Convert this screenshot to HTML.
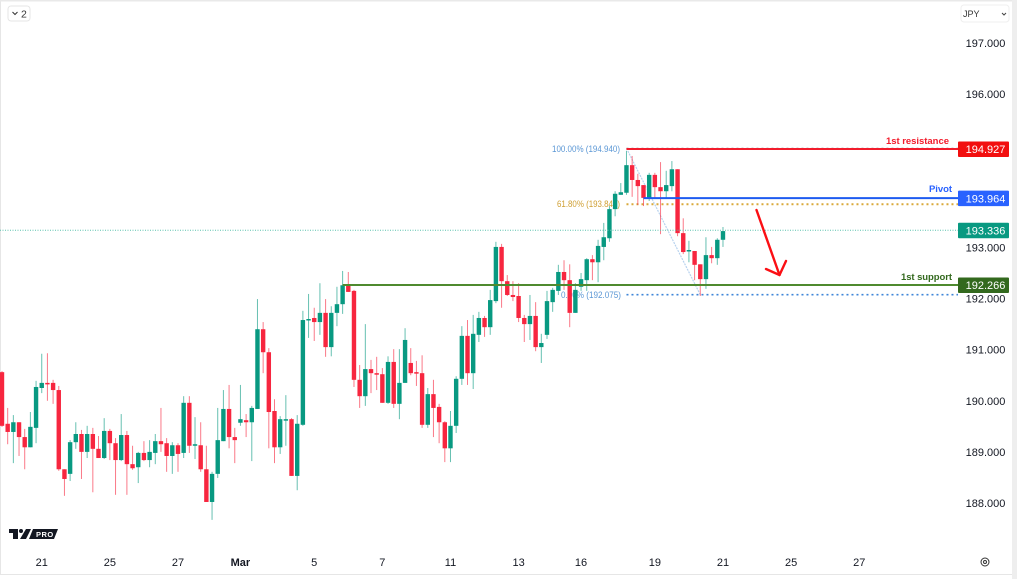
<!DOCTYPE html>
<html lang="en">
<head>
<meta charset="utf-8">
<title>JPY candlestick chart</title>
<style>
html,body{margin:0;padding:0;background:#fff;}
#wrap{position:relative;width:1017px;height:579px;overflow:hidden;background:#fff;font-family:"Liberation Sans",sans-serif;}
svg{display:block;filter:blur(0.3px);}
text{font-family:"Liberation Sans",sans-serif;}
</style>
</head>
<body>
<div id="wrap">
<svg id="chart" width="1017" height="579" viewBox="0 0 1017 579" xmlns="http://www.w3.org/2000/svg">
  <rect x="0" y="0" width="1017" height="579" fill="#ffffff"/>
  <rect x="0" y="0" width="1" height="574" fill="#e6e6e6"/>
  <rect x="0" y="0" width="1017" height="1.5" fill="#e9e9e9"/>
  <rect x="1012" y="0" width="5" height="579" fill="#eeeeee"/>
  <rect x="0" y="574" width="1012" height="1" fill="#e6e6e6"/>
  <g id="fib-layer"></g>
  <g id="candle-layer"></g>
  <g id="level-layer"></g>
  <g id="y-axis"></g>
  <g id="x-axis"></g>
  <g id="tag-layer"></g>

  <g fill="none" stroke="#fb0f14" stroke-width="2.4" stroke-linecap="round" stroke-linejoin="round">
    <line x1="756.5" y1="210" x2="779.5" y2="275"/>
    <polyline points="766,269 779.5,275 786,261"/>
  </g>

  <g>
    <rect x="8" y="6" width="22" height="15" rx="3" fill="#fff" stroke="#e6e6e6"/>
    <polyline points="12.5,12 15,14.5 17.5,12" fill="none" stroke="#333" stroke-width="1"/>
    <text x="21" y="17.5" font-size="10.5" fill="#333">2</text>
  </g>

  <g>
    <rect x="961" y="5" width="48" height="17" rx="3" fill="#fff" stroke="#efefef"/>
    <text x="963" y="17" font-size="9" fill="#333">JPY</text>
    <polyline points="1002,13 1004,15 1006,13" fill="none" stroke="#444" stroke-width="1"/>
  </g>

  <g>
    <polygon points="9,529 18,529 18,539 13,539 13,533 9,533" fill="#131722"/>
    <circle cx="21" cy="531" r="2" fill="#131722"/>
    <polygon points="26,529 31,529 26,539 20,539" fill="#131722"/>
    <polygon points="33,529 58,529 54,539 29,539" fill="#131722"/>
    <text x="36" y="537" font-size="7.5" font-weight="bold" fill="#fff" letter-spacing="0.5">PRO</text>
  </g>

  <g fill="none" stroke="#333">
    <circle cx="985" cy="562" r="4"/>
    <circle cx="985" cy="562" r="1.5"/>
  </g>
</svg>
</div>
<script>
const categories = Array.from({length: 128}, (_, k) => k);
const opens = [190.56,189.55,189.39,189.58,189.29,189.09,189.47,190.25,190.35,190.35,190.21,188.66,188.57,189.19,189.35,189.00,189.35,189.06,188.88,189.41,
189.17,188.84,189.33,188.76,188.70,188.98,188.84,188.98,189.21,189.17,188.92,189.13,188.98,189.96,189.12,189.13,188.66,188.02,188.57,189.21,
189.84,189.29,189.57,189.62,189.58,189.84,191.40,190.95,189.80,189.09,189.62,189.64,188.53,189.53,191.58,191.62,191.54,191.72,191.05,191.72,
191.89,192.26,192.15,190.41,190.09,190.62,190.54,190.52,189.96,190.76,189.94,190.35,190.74,190.56,190.54,189.53,190.13,189.88,189.58,189.07,
189.51,190.43,191.27,190.54,191.29,191.62,191.44,191.95,193.01,192.34,192.07,192.05,191.62,191.50,191.66,191.05,191.29,191.93,192.15,192.52,
192.36,191.72,192.23,192.36,192.77,192.71,193.01,193.18,193.75,194.03,194.07,194.61,194.32,194.22,193.97,194.42,194.18,194.10,194.20,194.53,
193.28,192.93,192.93,192.67,192.38,192.85,192.79,193.15];
const highs = [190.58,189.86,189.72,189.58,189.45,189.78,190.39,190.92,190.93,190.41,190.29,188.66,189.23,189.58,189.43,189.51,189.47,189.31,189.66,189.45,
189.27,189.74,189.41,189.12,189.00,189.21,189.23,189.35,189.86,189.27,189.19,189.17,190.09,190.09,189.68,189.58,189.12,188.61,189.86,190.21,
190.31,189.47,190.31,189.74,189.90,191.99,191.54,191.03,190.03,189.70,190.11,189.66,189.72,191.76,192.09,191.82,192.30,191.99,191.85,192.23,
192.54,192.52,192.17,190.70,191.50,190.80,190.86,190.64,190.87,191.01,191.01,191.42,191.03,190.78,190.89,190.25,190.41,189.94,189.60,189.80,
190.48,191.46,191.58,191.68,191.74,191.66,192.17,193.11,193.07,192.46,192.34,192.30,191.68,192.07,191.93,191.31,192.15,192.21,192.66,192.75,
192.67,192.30,192.50,192.79,192.85,193.15,193.48,193.81,194.10,194.26,194.89,194.79,194.44,194.22,194.46,194.46,194.67,194.50,194.69,194.53,
193.57,193.13,192.93,192.67,193.20,193.01,193.18,193.40];
const lows = [189.49,189.15,188.78,188.92,188.66,189.09,189.17,190.15,190.00,189.94,188.63,188.14,188.43,189.06,188.47,188.88,188.21,188.88,188.86,188.84,
188.16,188.82,188.16,188.65,188.39,188.82,188.70,188.76,189.00,188.61,188.57,188.61,188.88,188.98,188.86,188.61,188.02,187.67,188.49,189.21,
189.07,188.78,189.51,189.29,188.82,189.84,190.54,189.07,188.78,188.96,189.12,188.53,188.25,189.51,191.23,191.17,191.29,190.86,190.87,191.46,
191.70,192.13,190.27,189.86,189.90,190.15,190.21,189.96,189.94,189.86,189.64,190.35,190.50,190.29,189.47,189.47,189.29,189.17,188.80,188.80,
189.37,190.31,190.31,190.23,191.15,191.25,191.29,191.91,191.82,192.05,191.95,191.54,191.15,191.19,190.97,190.74,191.21,191.74,192.07,192.17,
191.44,191.72,192.15,192.15,192.36,192.32,192.75,193.11,193.61,194.03,194.03,193.99,193.83,193.81,193.91,193.97,193.26,193.97,194.10,193.22,
192.87,192.71,192.36,192.05,192.19,192.69,192.66,193.01];
const closes = [189.51,189.39,189.58,189.29,189.09,189.49,190.27,190.35,190.33,190.21,188.66,188.47,189.19,189.35,189.00,189.35,189.06,188.88,189.41,189.17,
188.84,189.33,188.76,188.68,188.98,188.84,189.00,189.21,189.15,188.92,189.13,188.96,189.96,189.12,189.15,188.66,188.02,188.57,189.23,189.84,
189.29,189.23,189.64,189.58,189.86,191.40,190.95,189.78,189.09,189.64,189.64,188.53,189.55,191.58,191.60,191.54,191.72,191.05,191.72,191.89,
192.26,192.13,190.41,190.09,190.62,190.54,190.52,189.96,190.76,189.94,190.35,191.19,190.54,190.54,189.53,190.13,189.86,189.58,189.07,189.51,
190.43,191.27,190.54,191.31,191.62,191.44,191.97,193.01,192.34,192.07,192.03,191.62,191.50,191.66,191.05,191.13,191.95,192.17,192.52,192.36,
191.72,192.17,192.38,192.77,192.71,193.03,193.20,193.75,194.05,194.08,194.61,194.32,194.20,193.97,194.42,194.18,194.10,194.22,194.53,193.28,
192.91,192.95,192.66,192.38,192.85,192.79,193.15,193.32];
const priceTicks = [197,196,195,194,193,192,191,190,189,188];
const timeTickLabels = ["21","25","27","Mar","5","7","11","13","16","19","21","25","27"];
const timeTickBars = [7,19,31,42,55,67,79,91,102,115,127,139,151];
const resistanceLevel = 194.927;
const pivotLevel = 193.964;
const lastPrice = 193.336;
const supportLevel = 192.266;
const fibHighPrice = 194.940;
const fibMidPrice = 193.846;
const fibLowPrice = 192.075;
const fibStartBar = 110;
const fibEndBar = 123;
const resistanceStartBar = 110;
const pivotStartBar = 113;
const supportStartBar = 60;

const NS = 'http://www.w3.org/2000/svg';
const xOf = i => 2 + i * 5.677;
const yOf = p => 43 + (197 - p) * 460 / 9;
const GREEN = '#089981';
const RED = '#f7263f';
const RIGHT = 958;

function mk(parent, tag, attrs, txt) {
  const el = document.createElementNS(NS, tag);
  for (const k in attrs) el.setAttribute(k, attrs[k]);
  if (txt !== undefined) el.textContent = txt;
  parent.appendChild(el);
  return el;
}

/* Fibonacci (behind candles) */
const fib = document.getElementById('fib-layer');
const fibStartX = xOf(fibStartBar);
const fibEndX = xOf(fibEndBar);

const trend = mk(fib, 'line', {x1: fibStartX, y1: yOf(fibHighPrice), x2: fibEndX, y2: yOf(fibLowPrice), stroke: '#b7d2ee', 'stroke-width': 1.2, 'stroke-dasharray': '2 1'});



const fibHighLine = mk(fib, 'line', {x1: fibStartX, y1: yOf(fibHighPrice), x2: RIGHT, y2: yOf(fibHighPrice), stroke: '#8a8a8a', 'stroke-width': 1, 'stroke-dasharray': '2 3'});



const fibMidLine = mk(fib, 'line', {x1: fibStartX, y1: yOf(fibMidPrice), x2: RIGHT, y2: yOf(fibMidPrice), stroke: '#d9a93a', 'stroke-width': 2, 'stroke-dasharray': '2 3'});



const fibLowLine = mk(fib, 'line', {x1: fibStartX, y1: yOf(fibLowPrice), x2: RIGHT, y2: yOf(fibLowPrice), stroke: '#3f86d8', 'stroke-width': 1.6, 'stroke-dasharray': '2 3'});



const fibHighText = mk(fib, 'text', {x: 552, y: yOf(fibHighPrice) + 3.5, 'font-size': 9.5, fill: '#5b97d5', textLength: 68, lengthAdjust: 'spacingAndGlyphs'}, '100.00% (' + fibHighPrice.toFixed(3) + ')');



const fibMidText = mk(fib, 'text', {x: 557, y: yOf(fibMidPrice) + 3, 'font-size': 9.5, fill: '#cf9f32', textLength: 63, lengthAdjust: 'spacingAndGlyphs'}, '61.80% (' + fibMidPrice.toFixed(3) + ')');



const fibLowText = mk(fib, 'text', {x: 561, y: yOf(fibLowPrice) + 3.5, 'font-size': 9.5, fill: '#5b97d5', textLength: 60, lengthAdjust: 'spacingAndGlyphs'}, '0.00% (' + fibLowPrice.toFixed(3) + ')');



/* Candles */
const candleLayer = document.getElementById('candle-layer');
categories.forEach(i => {
  const up = closes[i] >= opens[i];
  const col = up ? GREEN : RED;
  const cx = xOf(i);
  const wick = mk(candleLayer, 'line', {x1: cx, x2: cx, y1: yOf(highs[i]), y2: yOf(lows[i]), stroke: col, 'stroke-width': 1, 'stroke-opacity': 0.62});
  
  
  const top = yOf(Math.max(opens[i], closes[i]));
  const bot = yOf(Math.min(opens[i], closes[i]));
  const body = mk(candleLayer, 'rect', {x: cx - 2.2, y: top, width: 4.4, height: Math.max(bot - top, 1.5), fill: col});
  
  
});

/* Horizontal levels */
const levels = document.getElementById('level-layer');

const lastLine = mk(levels, 'line', {x1: 0, x2: RIGHT, y1: yOf(lastPrice), y2: yOf(lastPrice), stroke: '#5cc2ae', 'stroke-width': 1, 'stroke-dasharray': '1 1.5'});



const resLine = mk(levels, 'line', {x1: xOf(resistanceStartBar), x2: RIGHT, y1: yOf(resistanceLevel), y2: yOf(resistanceLevel), stroke: '#f21c2c', 'stroke-width': 2});



const pivLine = mk(levels, 'line', {x1: xOf(pivotStartBar), x2: RIGHT, y1: yOf(pivotLevel), y2: yOf(pivotLevel), stroke: '#1e5bf0', 'stroke-width': 2});



const supLine = mk(levels, 'line', {x1: xOf(supportStartBar), x2: RIGHT, y1: yOf(supportLevel), y2: yOf(supportLevel), stroke: '#4f8a2f', 'stroke-width': 2});



const resLabel = mk(levels, 'text', {x: 886, y: yOf(resistanceLevel) - 5, 'font-size': 9.5, 'font-weight': 'bold', fill: '#f21c2c', textLength: 63, lengthAdjust: 'spacing'}, '1st resistance');



const pivLabel = mk(levels, 'text', {x: 929, y: yOf(pivotLevel) - 6, 'font-size': 9.5, 'font-weight': 'bold', fill: '#2962ff', textLength: 23, lengthAdjust: 'spacing'}, 'Pivot');



const supLabel = mk(levels, 'text', {x: 901, y: yOf(supportLevel) - 5, 'font-size': 9.5, 'font-weight': 'bold', fill: '#33691e', textLength: 51, lengthAdjust: 'spacing'}, '1st support');



/* Axes */
const yAxis = document.getElementById('y-axis');
priceTicks.forEach(p => {
  const t = mk(yAxis, 'text', {x: 985.5, y: yOf(p) + 4, 'font-size': 11, fill: '#131722', 'text-anchor': 'middle'}, p.toFixed(3));
  
  
});

const xAxis = document.getElementById('x-axis');
timeTickLabels.forEach((lab, k) => {
  const attrs = {x: xOf(timeTickBars[k]), y: 566, 'font-size': 11, fill: '#131722', 'text-anchor': 'middle'};
  if (lab === 'Mar') attrs['font-weight'] = 'bold';
  const t = mk(xAxis, 'text', attrs, lab);
  
  
});

/* Price tags */
const tags = document.getElementById('tag-layer');
function priceTag(value, color, nameBox, nameText) {
  const cy = yOf(value);
  const box = mk(tags, 'rect', {x: 958, y: cy - 7.5, width: 51, height: 15.5, rx: 1, fill: color});
  
  
  const label = mk(tags, 'text', {x: 985.5, y: cy + 4.2, 'font-size': 11, fill: '#ffffff', 'text-anchor': 'middle'}, value.toFixed(3));
  
  
}
priceTag(resistanceLevel, '#f20f0f', 'resistance-tag', 'resistance-tag-value');
priceTag(pivotLevel, '#2962ff', 'pivot-tag', 'pivot-tag-value');
priceTag(lastPrice, '#089981', 'last-price-tag', 'last-price-tag-value');
priceTag(supportLevel, '#33691e', 'support-tag', 'support-tag-value');
</script>
</body>
</html>
